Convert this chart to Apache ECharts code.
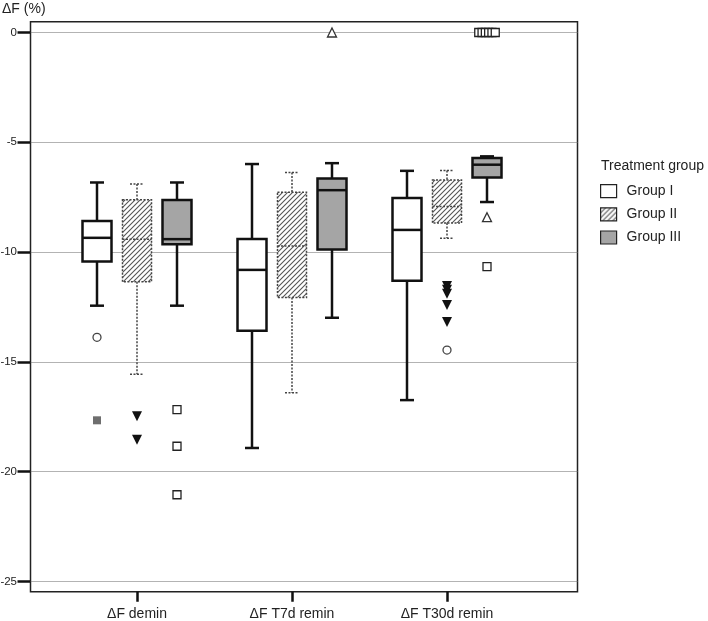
<!DOCTYPE html>
<html><head><meta charset="utf-8">
<script src="https://cdn.jsdelivr.net/npm/echarts@6/dist/echarts.min.js"></script>
<style>html,body{margin:0;padding:0;background:#fff}#c{width:708px;height:621px}</style>
</head><body><div id="c"></div>
<script>
// ---------- data ----------
const categories = ['ΔF demin', 'ΔF T7d remin', 'ΔF T30d remin'];
const groupNames = ['Group I', 'Group II', 'Group III'];
// each entry: [lower whisker, Q1, median, Q3, upper whisker], one per category
const boxGroupI   = [[-12.44, -10.43, -9.35, -8.58, -6.83], [-18.92, -13.58, -10.81, -9.40, -5.99], [-16.74, -11.31, -8.99, -7.54, -6.30]];
const boxGroupII  = [[-15.56, -11.35, -9.41, -7.62, -6.90], [-16.41, -12.07, -9.72, -7.27, -6.37], [-9.37, -8.68, -7.92, -6.72, -6.28]];
const boxGroupIII = [[-12.44, -9.64, -9.41, -7.63, -6.83], [-12.99, -9.88, -7.18, -6.65, -5.95], [-7.72, -6.60, -6.02, -5.72, -5.64]];
// outliers: [category index, value]
const outGroupICircle  = [[0, -13.88]];
const outGroupISolid   = [[0, -17.66]];
const outGroupIIDown   = [[0, -17.47], [0, -18.54], [2, -11.54], [2, -11.72], [2, -11.90], [2, -12.41], [2, -13.18]];
const outGroupIICircle = [[2, -14.46]];
const outGroupIIISquare = [[0, -17.17], [0, -18.84], [0, -21.05], [2, -10.66], [2, 0], [2, 0], [2, 0], [2, 0], [2, 0], [2, 0]];
const outGroupIIITriangle = [[1, 0], [2, -8.41]];

// ---------- styling ----------
const FONT = '"Liberation Sans", Arial, sans-serif';
const GROUP_OFFSET = [-40, 0, 40];
const BOX_W = 29, CAP_W = 14;

function hatch() {
  const s = 5, cv = document.createElement('canvas');
  cv.width = s; cv.height = s;
  const ctx = cv.getContext('2d');
  ctx.fillStyle = '#fff'; ctx.fillRect(0, 0, s, s);
  ctx.strokeStyle = '#555'; ctx.lineWidth = 1.1;
  ctx.beginPath();
  ctx.moveTo(-1, s + 1); ctx.lineTo(s + 1, -1);
  ctx.moveTo(-1, 1); ctx.lineTo(1, -1);
  ctx.moveTo(s - 1, s + 1); ctx.lineTo(s + 1, s - 1);
  ctx.stroke();
  return cv;
}
const hatchPattern = { image: hatch(), repeat: 'repeat' };

const styles = [
  { fill: '#ffffff', stroke: '#111', lw: 2.5, dash: null },
  { fill: hatchPattern, stroke: '#444', lw: 1.5, dash: [2, 1.5] },
  { fill: '#a5a5a5', stroke: '#111', lw: 2.5, dash: null }
];

function boxSeries(gi, boxes) {
  const st = styles[gi];
  return {
    type: 'custom', name: groupNames[gi], xAxisIndex: 2, yAxisIndex: 2, clip: false, z: 3,
    itemStyle: { color: st.fill, borderColor: st.stroke },
    encode: { x: 0, y: [1, 2, 3, 4, 5] },
    data: boxes.map((b, i) => [i].concat(b)),
    renderItem(params, api) {
      const c = api.value(0);
      const yOf = v => api.coord([c, v])[1];
      const x = api.coord([c, api.value(3)])[0] + GROUP_OFFSET[gi];
      const yLo = yOf(api.value(1)), yQ1 = yOf(api.value(2)), yMed = yOf(api.value(3)),
            yQ3 = yOf(api.value(4)), yHi = yOf(api.value(5));
      const hw = BOX_W / 2, cw = CAP_W / 2;
      const ls = { stroke: st.stroke, lineWidth: st.lw, lineDash: st.dash, fill: null };
      return { type: 'group', children: [
        { type: 'line', shape: { x1: x, y1: yHi, x2: x, y2: yQ3 }, style: ls },
        { type: 'line', shape: { x1: x, y1: yQ1, x2: x, y2: yLo }, style: ls },
        { type: 'line', shape: { x1: x - cw, y1: yHi, x2: x + cw, y2: yHi }, style: ls },
        { type: 'line', shape: { x1: x - cw, y1: yLo, x2: x + cw, y2: yLo }, style: ls },
        { type: 'rect', shape: { x: x - hw, y: yQ3, width: BOX_W, height: yQ1 - yQ3 },
          style: { fill: st.fill, stroke: st.stroke, lineWidth: st.lw, lineDash: st.dash } },
        { type: 'line', shape: { x1: x - hw, y1: yMed, x2: x + hw, y2: yMed }, style: ls }
      ] };
    }
  };
}

// spread coincident outliers side by side
function spread(points, gi) {
  const seen = {}, total = {};
  points.forEach(p => { const k = p.join('|'); total[k] = (total[k] || 0) + 1; });
  return points.map(p => {
    const k = p.join('|'); const idx = seen[k] = (seen[k] === undefined ? 0 : seen[k] + 1);
    const dx = (idx - (total[k] - 1) / 2) * 3.3;
    return { value: p, symbolOffset: [GROUP_OFFSET[gi] + dx, 0] };
  });
}
function outSeries(gi, points, symbol, size, rotate, fill, stroke) {
  return {
    type: 'scatter', xAxisIndex: 2, yAxisIndex: 2, symbol, symbolSize: size, symbolRotate: rotate,
    itemStyle: { color: fill, borderColor: stroke, borderWidth: stroke ? 1.3 : 0, opacity: 1 },
    data: spread(points, gi), z: 5, silent: true, clip: false
  };
}

const chart = echarts.init(document.getElementById('c'));
chart.setOption({
  animation: false,
  backgroundColor: '#fff',
  title: [
    { text: 'ΔF (%)', left: 2, top: 2, padding: 0, textStyle: { fontSize: 14, fontWeight: 'normal', color: '#222', fontFamily: FONT } },
    { text: 'Treatment group', left: 601, top: 159, padding: 0, textStyle: { fontSize: 14, fontWeight: 'normal', color: '#222', fontFamily: FONT } }
  ],
  legend: {
    orient: 'vertical', left: 600, top: 184, padding: 0, itemWidth: 16, itemHeight: 13, itemGap: 9,
    textStyle: { fontSize: 14, color: '#222', fontFamily: FONT, padding: [0, 0, 0, 5] },
    selectedMode: false,
    data: [
      { name: groupNames[0], icon: 'rect', itemStyle: { color: '#fff', borderColor: '#222', borderWidth: 1.2 } },
      { name: groupNames[1], icon: 'rect', itemStyle: { color: hatchPattern, borderColor: '#222', borderWidth: 1.2 } },
      { name: groupNames[2], icon: 'rect', itemStyle: { color: '#a5a5a5', borderColor: '#222', borderWidth: 1.2 } }
    ]
  },
  grid: [
    { left: 30.5, top: 21.7, width: 547, height: 570, show: true, borderColor: '#222', borderWidth: 1.5, backgroundColor: 'transparent', outerBoundsMode: 'none', containLabel: false },
    { left: 30.5, top: 32.5, width: 547, height: 549, outerBoundsMode: 'none', containLabel: false },
    { left: 59.5, top: 32.5, width: 465, height: 549, outerBoundsMode: 'none', containLabel: false }
  ],
  xAxis: [
    { gridIndex: 0, type: 'value', show: false, min: 0, max: 1 },
    { gridIndex: 1, type: 'value', show: false, min: 0, max: 1 },
    { gridIndex: 2, type: 'category', data: categories, position: 'bottom', offset: 10.2,
      axisLine: { show: false, onZero: false },
      axisTick: { show: true, alignWithLabel: true, length: 10, lineStyle: { color: '#111', width: 2.5 } },
      axisLabel: { margin: 15, fontSize: 14, color: '#222', fontFamily: FONT },
      splitLine: { show: false } }
  ],
  yAxis: [
    { gridIndex: 0, type: 'value', show: false, min: 0, max: 1 },
    { gridIndex: 1, type: 'value', min: -25, max: 0, interval: 5, position: 'left',
      axisLine: { show: false, onZero: false },
      axisTick: { show: true, length: 13, lineStyle: { color: '#111', width: 2.5 } },
      axisLabel: { margin: 13.5, fontSize: 11.5, color: '#222', fontFamily: FONT },
      splitLine: { show: true, lineStyle: { type: [1, 1], color: '#666', width: 1 } } },
    { gridIndex: 2, type: 'value', show: false, min: -25, max: 0 }
  ],
  series: [
    boxSeries(0, boxGroupI),
    boxSeries(1, boxGroupII),
    boxSeries(2, boxGroupIII),
    outSeries(0, outGroupICircle, 'circle', 8, 0, '#fff', '#444'),
    outSeries(0, outGroupISolid, 'rect', 8, 0, '#6e6e6e', null),
    outSeries(1, outGroupIIDown, 'triangle', 10, 180, '#111', null),
    outSeries(1, outGroupIICircle, 'circle', 8, 0, '#fff', '#444'),
    outSeries(2, outGroupIIISquare, 'rect', 8, 0, '#fff', '#222'),
    outSeries(2, outGroupIIITriangle, 'triangle', 9, 0, '#fff', '#333')
  ]
});
</script>
</body></html>
